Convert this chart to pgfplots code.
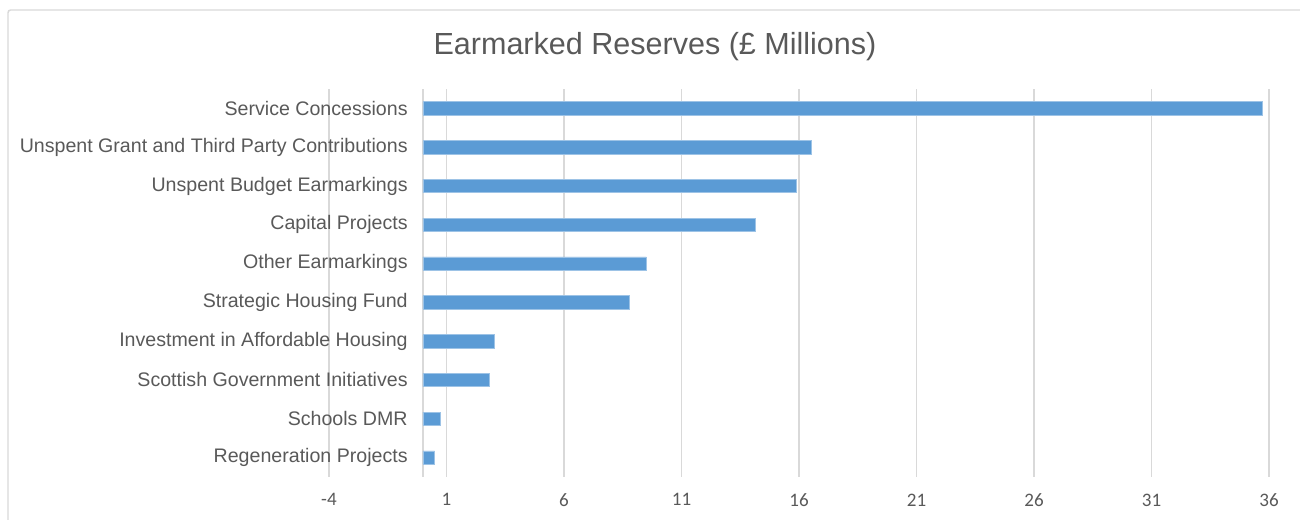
\documentclass[border=0pt]{standalone}
\usepackage{fontspec}
\setmainfont{Liberation Sans}
\newfontfamily\numfont[Numbers=Lining]{Carlito}
\usepackage{pgfplots}
\pgfplotsset{compat=1.18}

\definecolor{barblue}{HTML}{5B9BD5}
\definecolor{txtgray}{HTML}{595959}
\definecolor{gridgray}{HTML}{D9D9D9}

\pgfplotstableread{
pos value
9 35.72
8 16.51
7 15.90
6 14.13
5 9.51
4 8.79
3 3.03
2 2.81
1 0.73
0 0.50
}\reserves

\begin{document}
\begin{tikzpicture}[x=0.75pt,y=0.75pt]
  \useasboundingbox (0,0) rectangle (1300,520);
  \clip (0,0) rectangle (1300,520);
  % chart frame (cut off at right and bottom in the reference)
  \draw[gridgray, line width=1.1pt, rounded corners=2pt] (8,510) rectangle (1330,-30);
  \node[txtgray, font=\fontsize{22.9}{27}\selectfont] at (655,473) {Earmarked Reserves (£ Millions)};
  \begin{axis}[
      at={(246.75pt,32.25pt)}, anchor=south west,
      scale only axis,
      width=705pt, height=291pt,
      xbar, bar width=10pt,
      xmin=-4, xmax=36,
      ymin=-0.5, ymax=9.5,
      xtick={-4,1,...,36},
      ytick={0,...,9},
      yticklabels={Regeneration Projects, Schools DMR, Scottish Government Initiatives,
        Investment in Affordable Housing, Strategic Housing Fund, Other Earmarkings,
        Capital Projects, Unspent Budget Earmarkings,
        Unspent Grant and Third Party Contributions, Service Concessions},
      axis x line*=bottom,
      axis y line*=middle,
      x axis line style={draw=none},
      y axis line style={gridgray, line width=1.1pt},
      major tick length=0pt,
      xmajorgrids,
      major grid style={gridgray, line width=1.1pt},
      xticklabel style={txtgray, font=\numfont\fontsize{14.3}{16}\selectfont, yshift=-9pt},
      yticklabel style={txtgray, font=\fontsize{14.7}{17}\selectfont, xshift=-8pt},
      /pgf/number format/assume math mode=true,
      clip=false,
    ]
    \addplot[fill=barblue, draw=barblue!60!white, line width=0.4pt] table[x=value, y=pos] {\reserves};
  \end{axis}
\end{tikzpicture}
\end{document}
